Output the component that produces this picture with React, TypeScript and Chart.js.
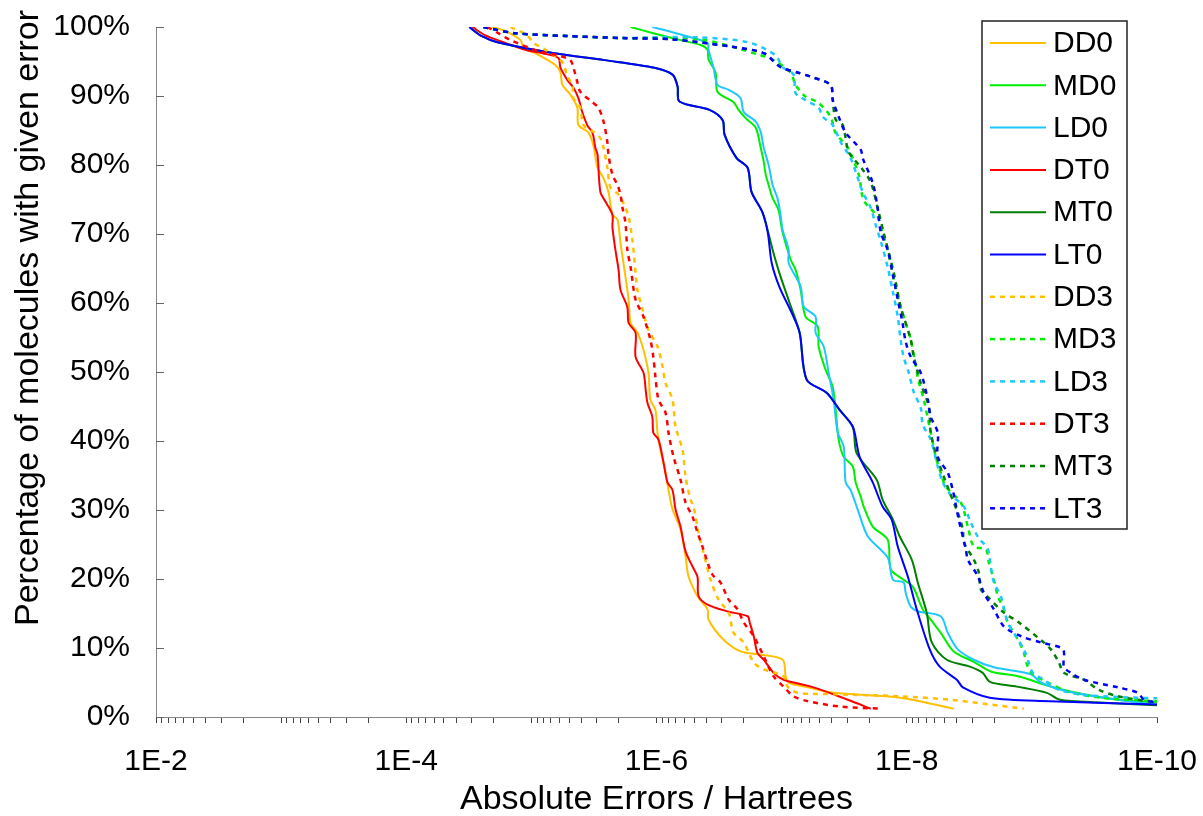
import React, { useEffect, useRef } from 'react';
import { Chart, registerables } from 'chart.js';

Chart.register(...registerables);

// ---- Data: [absolute error (Hartrees), percentage of molecules] ----
const DD0 = [[2.05e-5,100],[1.61e-5,99.4],[1.22e-5,98.1],[1.16e-5,97.0],[9.29e-6,96.2],[6.43e-6,94.5],[5.86e-6,93.4],[5.65e-6,91.6],[4.88e-6,90.2],[4.29e-6,88.3],[4.21e-6,85.8],[3.50e-6,84.7],[3.19e-6,82.8],[2.96e-6,79.6],[2.65e-6,78.1],[2.42e-6,76.1],[2.25e-6,72.8],[2.05e-6,72.1],[1.94e-6,68.7],[1.77e-6,63.8],[1.67e-6,60.5],[1.61e-6,57.1],[1.42e-6,55.7],[1.27e-6,53.2],[1.16e-6,49.9],[1.12e-6,46.0],[1.02e-6,44.5],[9.82e-7,41.2],[9.29e-7,38.7],[8.47e-7,35.4],[8.02e-7,32.9],[7.45e-7,30.1],[6.43e-7,27.2],[5.86e-7,23.3],[5.55e-7,20.4],[4.70e-7,17.5],[3.91e-7,15.6],[3.84e-7,14.1],[2.91e-7,11.2],[2.13e-7,9.5],[1.56e-7,9.1],[9.82e-8,8.3],[9.29e-8,5.9],[8.79e-8,5.0],[6.19e-8,4.3],[3.84e-8,3.5],[1.12e-8,2.8],[4.21e-9,1.2]];
const MD0 = [[1.61e-6,100],[1.06e-6,99.1],[6.43e-7,98.1],[4.45e-7,97.4],[3.91e-7,96.7],[3.84e-7,95.3],[3.37e-7,93.4],[3.25e-7,90.6],[2.42e-7,89.1],[2.21e-7,88.0],[1.94e-7,86.8],[1.61e-7,85.4],[1.47e-7,82.5],[1.39e-7,80.5],[1.34e-7,78.6],[1.27e-7,77.1],[1.18e-7,75.2],[1.06e-7,73.5],[9.82e-8,70.2],[8.47e-8,66.3],[7.73e-8,64.8],[7.05e-8,61.9],[6.43e-8,58.0],[5.15e-8,56.6],[5.06e-8,53.7],[4.45e-8,50.3],[3.91e-8,47.9],[3.70e-8,44.5],[3.50e-8,40.2],[3.19e-8,37.7],[2.70e-8,36.3],[2.56e-8,34.0],[2.33e-8,31.9],[2.21e-8,30.5],[1.87e-8,27.6],[1.42e-8,25.7],[1.34e-8,21.4],[1.06e-8,19.9],[8.95e-9,18.9],[7.45e-9,15.6],[6.43e-9,14.1],[5.35e-9,12.2],[4.21e-9,9.5],[2.91e-9,8.0],[2.13e-9,6.6],[1.29e-9,5.9],[7.05e-10,4.4],[3.84e-10,3.3],[2.05e-10,2.5],[1.0e-10,2.1]];
const LD0 = [[1.08e-6,100],[6.08e-7,98.8],[3.91e-7,97.7],[3.84e-7,96.7],[3.50e-7,94.1],[3.25e-7,91.6],[2.65e-7,90.9],[2.13e-7,89.7],[2.01e-7,87.7],[1.61e-7,86.3],[1.47e-7,84.8],[1.39e-7,82.5],[1.27e-7,80.0],[1.18e-7,77.1],[1.08e-7,75.2],[1.02e-7,72.8],[9.82e-8,70.6],[8.79e-8,67.7],[8.79e-8,65.8],[7.05e-8,62.4],[6.67e-8,59.5],[5.35e-8,58.0],[5.35e-8,55.7],[4.61e-8,53.7],[4.21e-8,49.9],[3.84e-8,46.0],[3.56e-8,41.2],[3.19e-8,39.2],[3.08e-8,34.0],[2.81e-8,32.9],[2.47e-8,30.1],[2.05e-8,26.2],[1.42e-8,23.1],[1.29e-8,19.9],[1.06e-8,19.5],[1.02e-8,18.0],[9.29e-9,16.0],[8.02e-9,15.3],[5.35e-9,14.6],[4.70e-9,12.2],[3.91e-9,9.8],[2.91e-9,8.3],[2.01e-9,7.2],[1.02e-9,6.2],[8.47e-10,5.0],[5.15e-10,3.7],[2.05e-10,2.5],[1.0e-10,1.8]];
const DT0 = [[2.96e-5,100],[2.33e-5,98.8],[1.61e-5,97.7],[1.12e-5,96.7],[8.17e-6,96.2],[6.08e-6,95.5],[5.86e-6,94.1],[5.15e-6,92.3],[4.61e-6,91.2],[4.21e-6,89.7],[3.91e-6,87.6],[3.56e-6,85.7],[3.25e-6,84.7],[3.08e-6,82.5],[2.96e-6,81.5],[2.81e-6,76.1],[2.56e-6,74.7],[2.25e-6,72.8],[2.25e-6,71.0],[2.13e-6,67.7],[2.01e-6,64.8],[1.94e-6,61.9],[1.71e-6,59.4],[1.67e-6,57.1],[1.47e-6,55.7],[1.47e-6,52.2],[1.27e-6,49.9],[1.22e-6,47.4],[1.18e-6,45.5],[1.08e-6,43.5],[1.06e-6,41.2],[9.64e-7,40.2],[8.79e-7,36.9],[8.17e-7,34.0],[7.45e-7,32.9],[7.05e-7,30.1],[6.43e-7,27.6],[5.86e-7,24.0],[5.15e-7,21.8],[4.70e-7,20.3],[4.61e-7,17.5],[3.91e-7,16.3],[2.70e-7,15.3],[1.87e-7,14.6],[1.80e-7,13.7],[1.67e-7,11.7],[1.56e-7,9.3],[1.39e-7,8.3],[1.16e-7,6.4],[9.64e-8,5.4],[5.55e-8,4.3],[2.96e-8,2.5],[1.94e-8,1.2]];
const MT0 = [[3.13e-5,100],[2.51e-5,98.7],[1.87e-5,97.8],[6.55e-6,96.2],[2.61e-6,95.2],[1.04e-6,94.1],[7.45e-7,93.1],[6.79e-7,91.4],[6.55e-7,89.2],[3.77e-7,88.0],[2.96e-7,86.5],[2.86e-7,84.4],[2.29e-7,81.0],[1.87e-7,79.6],[1.74e-7,76.1],[1.42e-7,73.1],[1.16e-7,67.2],[1.04e-7,64.3],[8.63e-8,60.0],[7.18e-8,55.7],[6.31e-8,48.9],[4.37e-8,47.0],[3.44e-8,44.5],[2.70e-8,42.0],[2.51e-8,38.2],[1.74e-8,34.4],[1.56e-8,31.5],[1.29e-8,28.6],[1.14e-8,26.2],[9.12e-9,22.8],[8.17e-9,19.5],[6.92e-9,15.1],[6.31e-9,10.8],[4.79e-9,8.3],[3.13e-9,7.3],[2.47e-9,6.4],[2.17e-9,5.1],[1.32e-9,4.4],[7.59e-10,3.5],[5.97e-10,2.5],[2.86e-10,2.1],[1.0e-10,1.7]];
const LT0 = [[3.13e-5,100],[2.51e-5,98.7],[1.87e-5,97.8],[6.55e-6,96.2],[2.61e-6,95.2],[1.04e-6,94.1],[7.45e-7,93.1],[6.79e-7,91.4],[6.55e-7,89.2],[3.77e-7,88.0],[2.96e-7,86.5],[2.86e-7,84.4],[2.29e-7,81.0],[1.87e-7,79.6],[1.74e-7,76.1],[1.42e-7,73.1],[1.29e-7,70.2],[1.20e-7,65.8],[1.04e-7,62.3],[8.32e-8,58.6],[7.18e-8,55.7],[6.31e-8,48.9],[4.37e-8,47.0],[3.44e-8,44.5],[2.70e-8,42.1],[2.38e-8,37.7],[1.87e-8,34.0],[1.56e-8,30.5],[1.32e-8,28.6],[1.18e-8,24.7],[9.82e-9,20.4],[8.32e-9,15.6],[6.55e-9,9.8],[5.45e-9,7.3],[3.98e-9,5.4],[3.56e-9,4.3],[2.17e-9,2.8],[7.18e-10,2.3],[1.0e-10,1.8]];
const DD3 = [[1.47e-5,100],[1.08e-5,98.8],[9.64e-6,97.7],[7.73e-6,96.7],[5.65e-6,94.9],[5.15e-6,92.8],[4.70e-6,91.6],[4.61e-6,89.7],[4.06e-6,88.3],[3.84e-6,85.8],[3.19e-6,84.8],[2.81e-6,83.9],[2.65e-6,82.5],[2.47e-6,79.6],[2.33e-6,76.7],[2.01e-6,75.7],[1.77e-6,73.8],[1.67e-6,72.5],[1.56e-6,69.2],[1.47e-6,64.4],[1.42e-6,61.9],[1.29e-6,59.0],[1.16e-6,56.1],[9.82e-7,53.7],[8.95e-7,50.8],[8.47e-7,48.4],[7.45e-7,46.0],[7.05e-7,42.1],[6.19e-7,38.7],[5.86e-7,34.8],[5.35e-7,31.5],[5.06e-7,30.5],[4.61e-7,26.7],[4.21e-7,23.8],[3.70e-7,19.9],[3.19e-7,17.0],[2.65e-7,15.1],[2.42e-7,12.2],[2.01e-7,10.8],[1.67e-7,7.9],[1.39e-7,6.9],[9.64e-8,5.9],[8.95e-8,4.4],[7.45e-8,3.5],[3.84e-8,3.3],[1.12e-8,3.0],[4.45e-9,2.5],[2.13e-9,1.8],[1.16e-9,1.2]];
const MD3 = [[2.42e-5,100],[1.34e-5,99.1],[5.35e-6,98.7],[1.87e-6,98.4],[4.45e-7,98.2],[1.47e-7,95.9],[1.16e-7,95.2],[8.47e-8,93.4],[7.73e-8,91.6],[6.43e-8,89.9],[5.15e-8,89.1],[4.06e-8,87.0],[3.70e-8,84.6],[2.96e-8,82.5],[2.42e-8,78.6],[2.21e-8,74.9],[1.71e-8,72.5],[1.56e-8,70.2],[1.42e-8,67.7],[1.27e-8,63.4],[1.12e-8,59.5],[1.02e-8,57.1],[9.29e-9,54.7],[8.47e-9,50.8],[8.02e-9,48.6],[7.31e-9,46.0],[6.43e-9,41.2],[5.86e-9,37.7],[5.35e-9,35.4],[4.88e-9,33.4],[3.70e-9,31.1],[3.25e-9,27.6],[2.91e-9,24.7],[2.33e-9,24.3],[2.21e-9,22.4],[2.01e-9,19.9],[1.87e-9,17.5],[1.67e-9,15.6],[1.56e-9,13.7],[1.29e-9,11.2],[1.16e-9,9.3],[1.08e-9,7.3],[9.82e-10,6.2],[7.45e-10,5.0],[5.15e-10,3.7],[2.81e-10,2.8],[1.0e-10,2.3]];
const LD3 = [[2.42e-5,100],[1.34e-5,99.1],[5.35e-6,98.7],[1.87e-6,98.4],[1.12e-6,98.5],[4.70e-7,98.5],[1.87e-7,97.8],[1.12e-7,95.9],[9.82e-8,94.2],[8.02e-8,93.1],[7.73e-8,90.4],[6.43e-8,89.4],[5.06e-8,88.3],[4.70e-8,87.0],[3.91e-8,85.8],[3.37e-8,83.3],[2.81e-8,81.0],[2.25e-8,76.1],[1.94e-8,73.8],[1.77e-8,71.3],[1.61e-8,68.9],[1.42e-8,65.2],[1.29e-8,61.6],[1.18e-8,58.0],[1.12e-8,54.7],[1.06e-8,52.2],[9.64e-9,49.9],[8.79e-9,47.1],[7.73e-9,44.8],[7.45e-9,42.4],[6.43e-9,40.2],[5.65e-9,36.3],[5.15e-9,34.0],[4.45e-9,32.2],[3.50e-9,30.5],[3.08e-9,28.2],[2.70e-9,26.1],[2.25e-9,24.3],[2.13e-9,21.8],[2.01e-9,19.5],[1.77e-9,17.5],[1.56e-9,13.7],[1.34e-9,11.7],[1.16e-9,9.8],[1.06e-9,7.9],[9.82e-10,6.4],[8.02e-10,5.4],[6.19e-10,4.0],[3.84e-10,3.2],[2.05e-10,2.9],[1.0e-10,2.7]];
const DT3 = [[2.25e-5,100],[1.84e-5,99.1],[1.47e-5,98.1],[8.79e-6,96.5],[5.86e-6,95.8],[4.88e-6,95.2],[4.61e-6,94.1],[4.29e-6,92.0],[4.06e-6,90.6],[3.25e-6,89.1],[2.91e-6,88.3],[2.65e-6,86.3],[2.47e-6,83.3],[2.42e-6,81.5],[2.25e-6,78.6],[2.05e-6,77.1],[1.94e-6,75.7],[1.87e-6,73.8],[1.77e-6,71.6],[1.71e-6,67.7],[1.61e-6,65.2],[1.47e-6,60.5],[1.27e-6,58.0],[1.12e-6,54.7],[1.06e-6,52.2],[1.02e-6,49.3],[9.64e-7,46.0],[8.47e-7,44.1],[8.02e-7,41.2],[7.31e-7,37.7],[6.43e-7,34.4],[5.86e-7,31.1],[5.15e-7,29.0],[4.70e-7,26.7],[4.29e-7,24.7],[3.91e-7,22.4],[3.56e-7,20.6],[3.08e-7,19.5],[2.65e-7,17.0],[2.25e-7,15.6],[2.01e-7,13.7],[1.67e-7,11.7],[1.39e-7,8.8],[1.16e-7,5.9],[9.64e-8,4.4],[8.02e-8,3.0],[6.19e-8,2.3],[3.37e-8,1.5],[1.61e-8,1.2]];
const MT3 = [[2.42e-5,100],[1.34e-5,99.1],[5.35e-6,98.7],[1.87e-6,98.4],[7.45e-7,98.2],[2.42e-7,97.1],[1.39e-7,96.2],[1.02e-7,94.2],[7.45e-8,93.4],[5.86e-8,92.8],[4.06e-8,91.6],[3.91e-8,89.5],[3.70e-8,86.6],[3.25e-8,85.8],[2.91e-8,81.9],[2.33e-8,79.7],[1.94e-8,77.5],[1.71e-8,73.8],[1.53e-8,70.2],[1.27e-8,64.4],[1.12e-8,59.5],[9.29e-9,54.7],[8.79e-9,52.2],[7.73e-9,48.4],[6.67e-9,45.0],[6.43e-9,41.2],[5.65e-9,37.3],[4.61e-9,32.9],[3.91e-9,29.6],[3.56e-9,27.2],[3.50e-9,25.3],[2.91e-9,22.8],[2.65e-9,20.9],[2.56e-9,18.5],[2.33e-9,17.7],[1.67e-9,15.1],[1.29e-9,13.8],[8.17e-10,10.9],[7.05e-10,9.8],[6.08e-10,7.9],[5.55e-10,6.4],[3.84e-10,5.4],[2.96e-10,4.0],[2.05e-10,3.0],[1.0e-10,2.1]];
const LT3 = [[2.42e-5,100],[1.34e-5,99.1],[5.35e-6,98.7],[1.87e-6,98.4],[7.45e-7,98.2],[2.42e-7,97.1],[1.39e-7,96.2],[1.02e-7,94.2],[7.45e-8,93.4],[5.86e-8,92.8],[4.06e-8,91.6],[3.91e-8,89.5],[3.50e-8,87.0],[3.08e-8,84.7],[2.33e-8,82.2],[2.25e-8,81.0],[1.87e-8,77.4],[1.71e-8,73.8],[1.61e-8,70.2],[1.42e-8,67.7],[1.29e-8,64.1],[1.18e-8,60.5],[1.08e-8,57.1],[1.02e-8,54.4],[9.29e-9,52.2],[7.73e-9,49.9],[6.79e-9,46.0],[6.43e-9,43.5],[5.65e-9,41.2],[5.65e-9,37.7],[4.70e-9,35.4],[4.29e-9,32.9],[4.06e-9,30.8],[3.84e-9,28.6],[3.37e-9,24.3],[3.25e-9,22.8],[2.70e-9,20.4],[2.42e-9,18.0],[2.01e-9,15.6],[1.67e-9,13.1],[1.22e-9,11.7],[8.47e-10,10.8],[5.65e-10,9.8],[5.55e-10,7.3],[4.88e-10,6.4],[3.84e-10,5.4],[2.05e-10,4.3],[1.42e-10,3.5],[1.27e-10,2.5],[1.0e-10,2.1]];

const seriesNames = ['DD0', 'MD0', 'LD0', 'DT0', 'MT0', 'LT0', 'DD3', 'MD3', 'LD3', 'DT3', 'MT3', 'LT3'];
const seriesData = [DD0, MD0, LD0, DT0, MT0, LT0, DD3, MD3, LD3, DT3, MT3, LT3];
const seriesColors = ['#FFC000', '#00EE00', '#1EC8FF', '#FF0000', '#008000', '#0000FF',
  '#FFC000', '#00EE00', '#1EC8FF', '#FF0000', '#008000', '#0000FF'];
const seriesDashed = [false, false, false, false, false, false, true, true, true, true, true, true];

const xLabelValues = [1e-2, 1e-4, 1e-6, 1e-8, 1e-10];
const xTickLabels = ['1E-2', '1E-4', '1E-6', '1E-8', '1E-10'];
const yTickValues = [0, 10, 20, 30, 40, 50, 60, 70, 80, 90, 100];
const xTitle = 'Absolute Errors / Hartrees';
const yTitle = 'Percentage of molecules with given error';

const FONT_FAMILY = "'Liberation Sans', Arial, Helvetica, sans-serif";

function minorTickValues() {
  const out = [];
  for (let e = -10; e <= -3; e++) {
    for (let k = 1; k <= 9; k++) out.push(k * Math.pow(10, e));
  }
  out.push(1e-2);
  return out;
}

const legendPlugin = {
  id: 'boxLegend',
  afterDraw(chart) {
    const ctx = chart.ctx;
    const left = 982, top = 21, right = 1127, bottom = 529;
    ctx.save();
    ctx.fillStyle = '#ffffff';
    ctx.fillRect(left, top, right - left, bottom - top);
    ctx.strokeStyle = '#222';
    ctx.lineWidth = 1.5;
    ctx.strokeRect(left, top, right - left, bottom - top);
    ctx.font = '30px ' + FONT_FAMILY;
    ctx.textBaseline = 'middle';
    ctx.textAlign = 'left';
    chart.data.datasets.forEach((ds, i) => {
      const y = 43 + i * 42.3;
      ctx.beginPath();
      ctx.strokeStyle = ds.borderColor;
      ctx.lineWidth = ds.borderWidth;
      ctx.setLineDash(ds.borderDash || []);
      ctx.moveTo(990, y);
      ctx.lineTo(1046, y);
      ctx.stroke();
      ctx.setLineDash([]);
      ctx.fillStyle = '#000';
      ctx.fillText(ds.label, 1053, y + 1);
    });
    ctx.restore();
  },
};

const axisTitles = {
  id: 'axisTitles',
  afterDraw(chart) {
    const ctx = chart.ctx;
    const ca = chart.chartArea;
    ctx.save();
    ctx.fillStyle = '#000';
    ctx.font = '34px ' + FONT_FAMILY;
    ctx.textAlign = 'center';
    ctx.textBaseline = 'middle';
    ctx.fillText(xTitle, (ca.left + ca.right) / 2, 800);
    ctx.translate(29, 318);
    ctx.rotate(-Math.PI / 2);
    ctx.fillText(yTitle, 0, 0);
    ctx.restore();
  },
};

const yInnerTicks = {
  id: 'yInnerTicks',
  afterDraw(chart) {
    const ctx = chart.ctx;
    const ys = chart.scales.y;
    const left = chart.chartArea.left;
    ctx.save();
    ctx.strokeStyle = '#666';
    ctx.lineWidth = 1;
    yTickValues.forEach((v) => {
      const y = Math.round(ys.getPixelForValue(v)) + 0.5;
      ctx.beginPath();
      ctx.moveTo(left, y);
      ctx.lineTo(left + 8, y);
      ctx.stroke();
    });
    ctx.restore();
  },
};

export default function App() {
  const canvasRef = useRef(null);

  useEffect(() => {
    document.body.style.margin = '0';
    const font = { family: FONT_FAMILY, size: 30 };
    const datasets = seriesNames.map((name, i) => ({
      label: name,
      data: seriesData[i].map(([x, y]) => ({ x, y })),
      borderColor: seriesColors[i],
      backgroundColor: seriesColors[i],
      borderWidth: seriesDashed[i] ? 2.5 : 2,
      borderDash: seriesDashed[i] ? [5, 5] : [],
      pointRadius: 0,
      tension: 0.3,
      fill: false,
      order: seriesNames.length - i,
    }));

    const chart = new Chart(canvasRef.current, {
      type: 'line',
      data: { datasets },
      options: {
        animation: false,
        responsive: true,
        maintainAspectRatio: false,
        layout: { padding: { left: 0, top: 27, right: 46, bottom: 0 } },
        plugins: { legend: { display: false }, tooltip: { enabled: false } },
        scales: {
          x: {
            type: 'logarithmic',
            reverse: true,
            min: 1e-10,
            max: 1e-2,
            afterBuildTicks: (scale) => {
              scale.ticks = minorTickValues().map((v) => ({ value: v }));
            },
            afterFit: (scale) => { scale.height = 99; },
            ticks: {
              autoSkip: false,
              maxRotation: 0,
              minRotation: 0,
              color: '#000',
              font,
              padding: 21,
              callback: (v) => {
                const lv = Math.log10(Number(v));
                for (let j = 0; j < xLabelValues.length; j++) {
                  if (Math.abs(lv - Math.log10(xLabelValues[j])) < 1e-6) return xTickLabels[j];
                }
                return '';
              },
            },
            grid: { display: true, drawOnChartArea: false, drawTicks: true, tickLength: 6, tickColor: '#444', tickWidth: 1 },
            border: { display: true, color: '#888', width: 1 },
            title: { display: false },
          },
          y: {
            type: 'linear',
            min: 0,
            max: 100,
            afterBuildTicks: (scale) => {
              scale.ticks = yTickValues.map((v) => ({ value: v }));
            },
            afterFit: (scale) => { scale.width = 156; },
            ticks: {
              color: '#000',
              font,
              padding: 8,
              callback: (v) => v + '%',
            },
            grid: { display: false, drawTicks: true, tickLength: 18 },
            border: { display: true, color: '#888', width: 1 },
            title: { display: false },
          },
        },
      },
      plugins: [yInnerTicks, axisTitles, legendPlugin],
    });
    return () => chart.destroy();
  }, []);

  return (
    <div style={{ width: '1203px', height: '816px', position: 'relative', background: '#fff' }}>
      <canvas ref={canvasRef} />
    </div>
  );
}
